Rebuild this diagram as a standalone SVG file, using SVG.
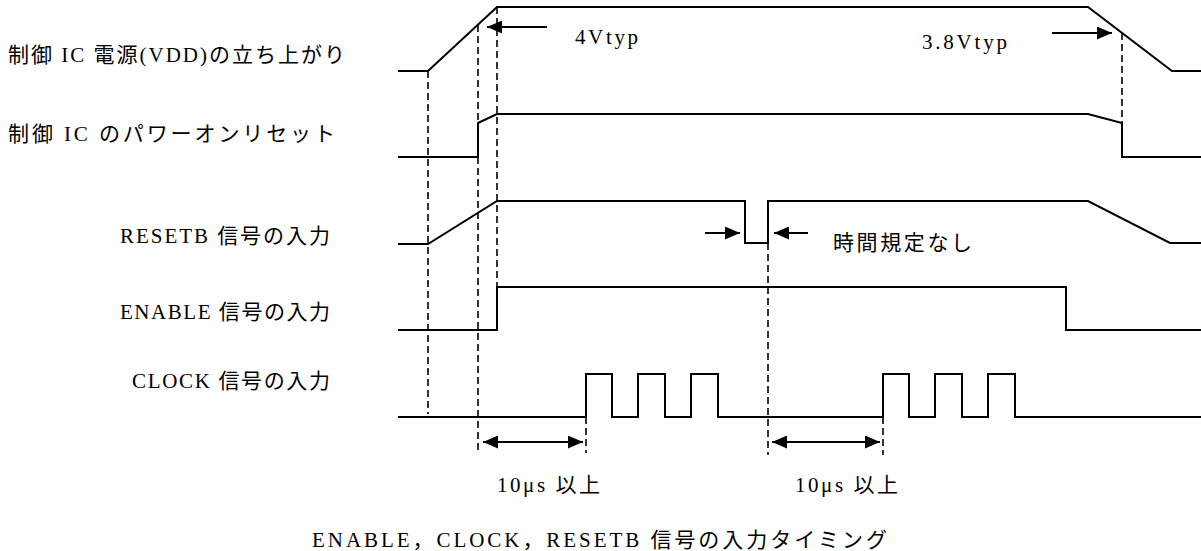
<svg xmlns="http://www.w3.org/2000/svg" width="1201" height="551" viewBox="0 0 1201 551">
<style>
.w{fill:none;stroke:#000;stroke-width:2;stroke-linejoin:miter}
.d{fill:none;stroke:#000;stroke-width:1.6;stroke-dasharray:7 4}
.a{fill:none;stroke:#000;stroke-width:2}
.t{font-family:'Liberation Serif','Times New Roman','DejaVu Serif','Noto Sans CJK JP',serif;font-size:21px;fill:#000}
</style>
<defs>
<marker id="ah" markerWidth="15" markerHeight="13" refX="15" refY="6.5" orient="auto-start-reverse" markerUnits="userSpaceOnUse"><path d="M0,0 L15,6.5 L0,13 z" fill="#000"/></marker>
</defs>
<rect width="1201" height="551" fill="#fff"/>
<g id="labels">
<text class="t" x="8" y="62" textLength="337" lengthAdjust="spacing">制御 IC 電源(VDD)の立ち上がり</text>
<text class="t" x="8" y="141" textLength="327" lengthAdjust="spacing">制御 IC のパワーオンリセット</text>
<text class="t" x="120" y="243" textLength="210" lengthAdjust="spacing">RESETB 信号の入力</text>
<text class="t" x="120" y="319" textLength="210" lengthAdjust="spacing">ENABLE 信号の入力</text>
<text class="t" x="132" y="388" textLength="198" lengthAdjust="spacing">CLOCK 信号の入力</text>
</g>
<g id="wave-vdd"><polyline class="w" points="398,71 428,71 497,7 1088,7 1172,71 1201,71"/></g>
<g id="wave-por"><polyline class="w" points="398,157 478,157 478,123 497,114 1088,114 1122,123 1122,157 1201,157"/></g>
<g id="wave-resetb"><polyline class="w" points="398,244 428,244 497,201 745,201 745,243 768,243 768,201 1088,201 1170,243 1201,243"/></g>
<g id="wave-enable"><polyline class="w" points="398,330 497,330 497,287 1066,287 1066,330 1201,330"/></g>
<g id="wave-clock"><polyline class="w" points="398,417 586,417 586,374 612,374 612,417 638,417 638,374 665,374 665,417 691,417 691,374 718,374 718,417 883,417 883,374 909,374 909,417 935,417 935,374 962,374 962,417 988,417 988,374 1015,374 1015,417 1201,417"/></g>
<g id="connectors">
<line class="d" x1="428" y1="71" x2="428" y2="414"/>
<line class="d" x1="478" y1="25" x2="478" y2="450"/>
<line class="d" x1="497" y1="7" x2="497" y2="287"/>
<line class="d" x1="586" y1="417" x2="586" y2="453"/>
<line class="d" x1="768" y1="243" x2="768" y2="455"/>
<line class="d" x1="883" y1="417" x2="883" y2="455"/>
<line class="d" x1="1122" y1="33" x2="1122" y2="123"/>
<line class="a" x1="547" y1="27" x2="487" y2="27" marker-end="url(#ah)"/>
<line class="a" x1="1052" y1="33" x2="1112" y2="33" marker-end="url(#ah)"/>
<line class="a" x1="705" y1="233" x2="740" y2="233" marker-end="url(#ah)"/>
<line class="a" x1="808" y1="233" x2="774" y2="233" marker-end="url(#ah)"/>
<line class="a" x1="483" y1="442" x2="583" y2="442" marker-start="url(#ah)" marker-end="url(#ah)"/>
<line class="a" x1="772" y1="442" x2="880" y2="442" marker-start="url(#ah)" marker-end="url(#ah)"/>
</g>
<g id="annotations">
<text class="t" x="575" y="44" textLength="63" lengthAdjust="spacing">4Vtyp</text>
<text class="t" x="922" y="49" textLength="85" lengthAdjust="spacing">3.8Vtyp</text>
<text class="t" x="833" y="250" textLength="139" lengthAdjust="spacing">時間規定なし</text>
<text class="t" x="497" y="492" textLength="103" lengthAdjust="spacing">10μs 以上</text>
<text class="t" x="795" y="492" textLength="103" lengthAdjust="spacing">10μs 以上</text>
<text class="t" x="312" y="547" textLength="575" lengthAdjust="spacing">ENABLE，CLOCK，RESETB 信号の入力タイミング</text>
</g>
</svg>
